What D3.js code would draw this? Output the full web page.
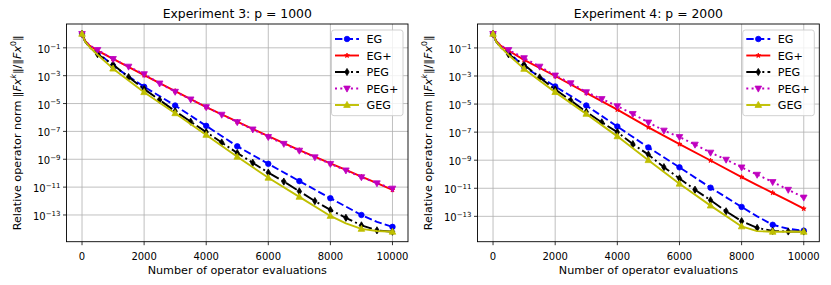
<!DOCTYPE html>
<html><head><meta charset="utf-8">
<script src="https://cdn.jsdelivr.net/npm/d3@7/dist/d3.min.js"></script>
<style>body{margin:0;background:#fff}svg{display:block}text{font-family:"DejaVu Sans",sans-serif;fill:#000}</style>
</head><body><svg id="c" width="831" height="285"></svg>
<script>
// operator evaluations (x values)
const evalsA = [0, 100, 250, 500, 1000, 2000, 3000, 4000, 5000, 6000, 7000, 8000, 8500, 9000, 9500, 10000];
const evalsB = [0, 100, 250, 500, 1000, 1500, 2000, 2500, 3000, 3500, 4000, 4500, 5000, 5500, 6000, 6500, 7000, 7500, 8000, 8500, 9000, 9500, 10000];

// Experiment 3: p = 1000
const exp3_EG   = [1, 0.28, 0.126, 5.0e-2, 5.0e-3, 1.6e-4, 7.2e-6, 2.5e-7, 8.5e-9, 4.7e-10, 2.7e-11, 1.6e-12, 4.0e-13, 1.0e-13, 3.2e-14, 1.4e-14];
const exp3_EGp  = [1, 0.32, 0.14, 6.3e-2, 1.6e-2, 1.1e-3, 7.9e-5, 5.6e-6, 5.0e-7, 4.5e-8, 4.5e-9, 5.0e-10, 1.7e-10, 5.6e-11, 1.9e-11, 6.3e-12];
const exp3_PEG  = [1, 0.28, 0.11, 3.5e-2, 6.3e-3, 7.9e-4, 1.1e-4, 1.8e-5, 2.8e-6, 5.0e-7, 8.9e-8, 1.6e-8, 2.8e-9, 5.6e-10, 1.1e-10, 2.5e-11, 5.0e-12, 1.0e-12, 2.3e-13, 6.3e-14, 1.8e-14, 7.9e-15, 6.3e-15];
const exp3_PEGp = [1, 0.32, 0.15, 7.1e-2, 1.6e-2, 4.5e-3, 1.3e-3, 2.8e-4, 7.1e-5, 2.0e-5, 5.6e-6, 1.6e-6, 4.7e-7, 1.4e-7, 4.0e-8, 1.3e-8, 4.2e-9, 1.4e-9, 4.7e-10, 1.6e-10, 5.2e-11, 1.9e-11, 7.9e-12];
const exp3_GEG  = [1, 0.28, 0.11, 3.2e-2, 3.2e-3, 6.5e-5, 2.0e-6, 5.6e-8, 1.5e-9, 4.7e-11, 2.0e-12, 8.5e-14, 2.5e-14, 1.0e-14, 7.1e-15, 6.2e-15];

// Experiment 4: p = 2000
const exp4_EG   = [1, 0.28, 0.126, 5.0e-2, 4.5e-3, 1.8e-4, 7.9e-6, 2.5e-7, 8.1e-9, 3.1e-10, 1.1e-11, 4.7e-13, 1.0e-13, 2.5e-14, 1.3e-14, 9.5e-15];
const exp4_EGp  = [1, 0.32, 0.14, 6.3e-2, 1.4e-2, 1.0e-3, 6.3e-5, 4.0e-6, 2.2e-7, 1.4e-8, 9.5e-10, 6.3e-11, 1.7e-11, 4.7e-12, 1.3e-12, 3.5e-13];
const exp4_PEG  = [1, 0.28, 0.11, 3.5e-2, 6.3e-3, 7.9e-4, 1.1e-4, 1.8e-5, 2.8e-6, 5.0e-7, 1.0e-7, 1.4e-8, 2.5e-9, 3.2e-10, 5.0e-11, 7.9e-12, 1.4e-12, 2.3e-13, 4.5e-14, 1.5e-14, 9.1e-15, 8.3e-15, 8.3e-15];
const exp4_PEGp = [1, 0.32, 0.15, 7.2e-2, 1.9e-2, 4.7e-3, 1.1e-3, 3.1e-4, 7.1e-5, 2.3e-5, 7.1e-6, 2.0e-6, 4.9e-7, 1.3e-7, 4.5e-8, 1.3e-8, 3.5e-9, 1.1e-9, 3.1e-10, 9.3e-11, 2.8e-11, 7.9e-12, 2.2e-12];
const exp4_GEG  = [1, 0.28, 0.11, 3.2e-2, 3.2e-3, 7.1e-5, 2.0e-6, 5.0e-8, 1.0e-9, 2.1e-11, 5.8e-13, 1.9e-14, 8.9e-15, 7.9e-15, 7.9e-15, 7.9e-15];

const seriesNames = ["EG", "EG+", "PEG", "PEG+", "GEG"];
const titles = ["Experiment 3: p = 1000", "Experiment 4: p = 2000"];
const xTickValues = [0, 2000, 4000, 6000, 8000, 10000];
const yTickExponents = [-1, -3, -5, -7, -9, -11, -13];
const xLabel = "Number of operator evaluations";

const styles = [
  {color: "#0000ff", dash: "7.4,3.2", marker: "circle", step: 1000, xs: evalsA},
  {color: "#ff0000", dash: null, marker: "star", step: 1000, xs: evalsA},
  {color: "#000000", dash: "12.8,3.2,2,3.2", marker: "thin_diamond", step: 500, xs: evalsB},
  {color: "#bf00bf", dash: "2,3.3", marker: "tri_down", step: 500, xs: evalsB},
  {color: "#bfbf00", dash: null, marker: "tri_up", step: 1000, xs: evalsA}
];
const panelsData = [
  [exp3_EG, exp3_EGp, exp3_PEG, exp3_PEGp, exp3_GEG],
  [exp4_EG, exp4_EGp, exp4_PEG, exp4_PEGp, exp4_GEG]
];
const frames = [
  {left: 66.5, right: 408, top: 24, bottom: 241.7},
  {left: 477.5, right: 819.3, top: 24, bottom: 241.7}
];

const svg = d3.select("#c");

function markerPath(kind) {
  if (kind === "circle") return d3.symbol(d3.symbolCircle, 24)();
  if (kind === "star") return d3.symbol(d3.symbolStar, 7)();
  if (kind === "tri_up") return "M0,-3.6L3.3,2.4L-3.3,2.4Z";
  if (kind === "tri_down") return "M0,3.6L3.3,-2.4L-3.3,-2.4Z";
  if (kind === "thin_diamond") return "M0,-3.6L2.2,0L0,3.6L-2.2,0Z";
}

function addPow(textSel, base, sup, supSize) {
  textSel.append("tspan").text(base);
  textSel.append("tspan").attr("font-size", supSize).attr("dy", -4.2).text(sup);
}

panelsData.forEach((data, pi) => {
  const f = frames[pi];
  const g = svg.append("g");
  const x = d3.scaleLinear().domain([-500, 10500]).range([f.left, f.right]);
  const allVals = data.flat();
  const lmin = Math.log10(d3.min(allVals)), lmax = Math.log10(d3.max(allVals));
  const m = 0.05 * (lmax - lmin);
  const y = d3.scaleLog().domain([Math.pow(10, lmin - m), Math.pow(10, lmax + m)]).range([f.bottom, f.top]);

  const clipId = "clip" + pi;
  g.append("clipPath").attr("id", clipId).append("rect")
    .attr("x", f.left).attr("y", f.top).attr("width", f.right - f.left).attr("height", f.bottom - f.top);

  // grid
  const grid = g.append("g").attr("stroke", "#b0b0b0").attr("stroke-width", 0.8);
  xTickValues.forEach(v => grid.append("line").attr("x1", x(v)).attr("x2", x(v)).attr("y1", f.top).attr("y2", f.bottom));
  yTickExponents.forEach(e => grid.append("line").attr("x1", f.left).attr("x2", f.right).attr("y1", y(Math.pow(10, e))).attr("y2", y(Math.pow(10, e))));

  // series
  const plot = g.append("g").attr("clip-path", `url(#${clipId})`);
  data.forEach((vals, si) => {
    const st = styles[si];
    const pts = st.xs.map((xv, i) => [xv, vals[i]]);
    const line = d3.line().x(d => x(d[0])).y(d => y(d[1]));
    const p = plot.append("path").attr("d", line(pts)).attr("fill", "none")
      .attr("stroke", st.color).attr("stroke-width", 1.9).attr("stroke-linejoin", "round");
    if (st.dash) p.attr("stroke-dasharray", st.dash);
    const mk = markerPath(st.marker);
    plot.selectAll(null).data(pts.filter(d => d[0] % st.step === 0)).enter().append("path")
      .attr("d", mk).attr("transform", d => `translate(${x(d[0])},${y(d[1])})`)
      .attr("fill", st.color).attr("stroke", st.color).attr("stroke-width", 0.8);
  });

  // spines
  g.append("rect").attr("x", f.left).attr("y", f.top).attr("width", f.right - f.left).attr("height", f.bottom - f.top)
    .attr("fill", "none").attr("stroke", "#000").attr("stroke-width", 0.9);

  // x ticks
  xTickValues.forEach(v => {
    g.append("line").attr("x1", x(v)).attr("x2", x(v)).attr("y1", f.bottom).attr("y2", f.bottom + 3.5).attr("stroke", "#000").attr("stroke-width", 0.8);
    g.append("text").attr("x", x(v)).attr("y", f.bottom + 17.8).attr("text-anchor", "middle").attr("font-size", 10).text(d3.format("d")(v));
  });
  // y ticks
  yTickExponents.forEach(e => {
    const yy = y(Math.pow(10, e));
    g.append("line").attr("x1", f.left - 3.5).attr("x2", f.left).attr("y1", yy).attr("y2", yy).attr("stroke", "#000").attr("stroke-width", 0.8);
    const t = g.append("text").attr("x", f.left - 6).attr("y", yy + 5).attr("text-anchor", "end").attr("font-size", 10);
    addPow(t, "10", "\u2212" + Math.abs(e), 7);
  });

  // title
  g.append("text").attr("x", (f.left + f.right) / 2).attr("y", 17.5).attr("text-anchor", "middle").attr("font-size", 12.4).text(titles[pi]);
  // x label
  g.append("text").attr("x", (f.left + f.right) / 2).attr("y", 273.5).attr("text-anchor", "middle").attr("font-size", 11.2).text(xLabel);
  // y label
  const yl = g.append("text").attr("transform", `translate(${f.left - 46},${(f.top + f.bottom) / 2}) rotate(-90)`)
    .attr("text-anchor", "middle").attr("font-size", 11.2);
  yl.append("tspan").text("Relative operator norm \u2016");
  yl.append("tspan").attr("font-style", "italic").text("Fx");
  yl.append("tspan").attr("font-style", "italic").attr("font-size", 7.8).attr("dy", -4.5).text("k");
  yl.append("tspan").attr("dy", 4.5).text("\u2016/\u2016");
  yl.append("tspan").attr("font-style", "italic").text("Fx");
  yl.append("tspan").attr("font-size", 7.8).attr("dy", -4.5).text("0");
  yl.append("tspan").attr("dy", 4.5).text("\u2016");

  // legend
  const lg = g.append("g");
  const lx = f.right - 76.5, ly = 30;
  lg.append("rect").attr("x", lx).attr("y", ly).attr("width", 71.5).attr("height", 85.7).attr("rx", 2.5)
    .attr("fill", "#fff").attr("fill-opacity", 0.8).attr("stroke", "#cccccc").attr("stroke-width", 0.9);
  seriesNames.forEach((name, si) => {
    const st = styles[si];
    const cy = 39 + si * 16.5;
    const hl = lg.append("line").attr("x1", lx + 3.5).attr("x2", lx + 27.5).attr("y1", cy).attr("y2", cy)
      .attr("stroke", st.color).attr("stroke-width", 1.9);
    if (st.dash) hl.attr("stroke-dasharray", st.dash);
    lg.append("path").attr("d", markerPath(st.marker)).attr("transform", `translate(${lx + 15.5},${cy})`)
      .attr("fill", st.color).attr("stroke", st.color).attr("stroke-width", 0.8);
    lg.append("text").attr("x", lx + 35).attr("y", cy + 4).attr("font-size", 11.2).text(name);
  });
});
</script></body></html>
